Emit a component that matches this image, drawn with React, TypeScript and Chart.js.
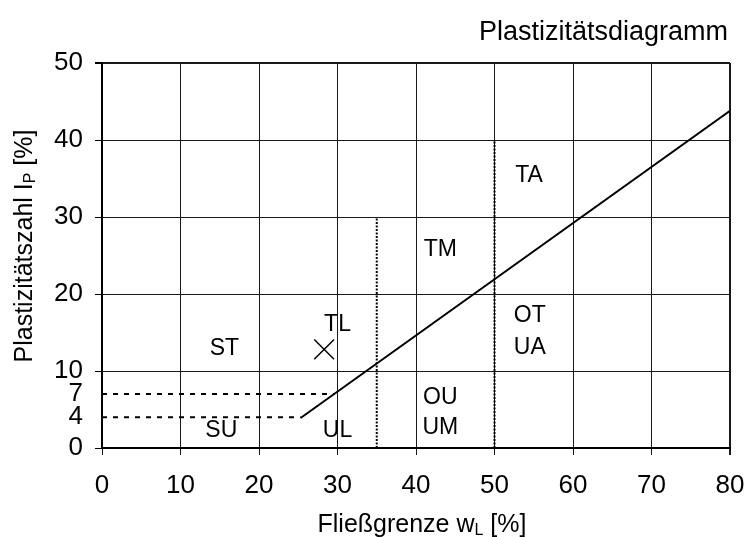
import React, { useEffect, useRef } from "react";
import { Chart, registerables } from "chart.js";

Chart.register(...registerables);

const chartTitle = "Plastizitätsdiagramm";
// [text, isSubscript]
const xAxisTitleParts: [string, boolean][] = [["Fließgrenze w", false], ["L", true], [" [%]", false]];
const yAxisTitleParts: [string, boolean][] = [["Plastizitätszahl I", false], ["P", true], [" [%]", false]];

const yTickValues = [0, 4, 7, 10, 20, 30, 40, 50];
const hiddenGridValues = [4, 7];

// A-line
const aLineX = [25.3, 80];
const aLineY = [3.9, 43.8];

// dashed horizontal limits
const dash7X = [0, 29.6];
const dash7Y = [7, 7];
const dash4X = [0, 25.3];
const dash4Y = [4, 4];

// dotted vertical limits
const dot35X = [35, 35];
const dot35Y = [0, 30];
const dot50X = [50, 50];
const dot50Y = [0, 40];

// sample point
const sampleX = [28.3];
const sampleY = [12.8];

// zone labels
const zoneLabels = ["ST", "TL", "SU", "UL", "OU", "UM", "TM", "TA", "OT", "UA"];
const zoneX = [15.6, 30.0, 15.2, 30.0, 43.1, 43.1, 43.1, 54.4, 54.5, 54.5];
const zoneY = [12.9, 16.0, 2.2, 2.2, 6.6, 2.6, 25.8, 35.4, 17.2, 13.0];

const FONT = "'Liberation Sans', Arial, sans-serif";
const TICK_FS = 26;
const AXIS_FS = 25;
const SUB_FS = 16;
const ZONE_FS = 23;
const TITLE_FS = 27;

const pts = (xs: number[], ys: number[]) => xs.map((x, i) => ({ x, y: ys[i] }));

function drawParts(ctx: CanvasRenderingContext2D, parts: [string, boolean][], cx: number, baseline: number) {
  const widths = parts.map(([t, sub]) => {
    ctx.font = `${sub ? SUB_FS : AXIS_FS}px ${FONT}`;
    return ctx.measureText(t).width;
  });
  const total = widths.reduce((a, b) => a + b, 0);
  let x = cx - total / 2;
  parts.forEach(([t, sub], i) => {
    ctx.font = `${sub ? SUB_FS : AXIS_FS}px ${FONT}`;
    ctx.fillText(t, x, baseline + (sub ? 3 : 0));
    x += widths[i];
  });
}

const textPlugin = {
  id: "textLabels",
  afterDatasetsDraw(chart: any) {
    const { ctx, scales, chartArea } = chart;
    ctx.save();
    ctx.fillStyle = "#000";
    ctx.textBaseline = "middle";
    ctx.font = `${ZONE_FS}px ${FONT}`;
    ctx.textAlign = "center";
    zoneLabels.forEach((t, i) => {
      ctx.fillText(t, scales.x.getPixelForValue(zoneX[i]), scales.y.getPixelForValue(zoneY[i]));
    });
    ctx.font = `${TITLE_FS}px ${FONT}`;
    ctx.textAlign = "right";
    ctx.fillText(chartTitle, 728, 33);

    ctx.textAlign = "left";
    ctx.textBaseline = "alphabetic";
    const xc = (chartArea.left + chartArea.right) / 2 + 6;
    drawParts(ctx, xAxisTitleParts, xc, 532);

    ctx.translate(32, 0);
    ctx.rotate(-Math.PI / 2);
    drawParts(ctx, yAxisTitleParts, -246, 0);
    ctx.restore();
  },
};

export default function App() {
  const ref = useRef<HTMLCanvasElement>(null);
  useEffect(() => {
    document.body.style.margin = "0";
    const line = (xs: number[], ys: number[], extra: any = {}) => ({
      data: pts(xs, ys),
      showLine: true,
      borderColor: "#000",
      borderWidth: 2,
      pointRadius: 0,
      fill: false,
      ...extra,
    });
    const chart = new Chart(ref.current!, {
      type: "scatter",
      data: {
        datasets: [
          line(aLineX, aLineY),
          line(dash7X, dash7Y, { borderDash: [5, 6], borderWidth: 2 }),
          line(dash4X, dash4Y, { borderDash: [5, 6], borderWidth: 2 }),
          line(dot35X, dot35Y, { borderDash: [2, 1.5], borderWidth: 2 }),
          line(dot50X, dot50Y, { borderDash: [2, 1.5], borderWidth: 2 }),
          {
            data: pts(sampleX, sampleY),
            showLine: false,
            pointStyle: "crossRot",
            pointRadius: 14,
            borderColor: "#000",
            borderWidth: 1.5,
          } as any,
        ],
      },
      options: {
        animation: false,
        responsive: false,
        layout: { padding: { left: 0, right: 18, top: 63, bottom: 0 } },
        plugins: {
          legend: { display: false },
          tooltip: { enabled: false },
          title: { display: false },
        },
        scales: {
          x: {
            type: "linear",
            min: 0,
            max: 80,
            ticks: {
              stepSize: 10,
              color: "#000",
              font: { family: FONT, size: TICK_FS },
              padding: 15,
              maxRotation: 0,
            },
            grid: {
              color: "#1a1a1a",
              lineWidth: (c: any) => (c.tick && c.tick.value === 80 ? 2 : 1),
              tickLength: 7,
            },
            border: { display: true, color: "#000", width: 2 },
            title: { display: false },
            afterFit: (s: any) => {
              s.height = 89;
              s.paddingLeft = 0;
              s.paddingRight = 0;
            },
          },
          y: {
            type: "linear",
            min: 0,
            max: 50,
            afterBuildTicks: (s: any) => {
              s.ticks = yTickValues.map((v) => ({ value: v }));
            },
            ticks: {
              color: "#000",
              font: { family: FONT, size: TICK_FS },
              padding: 12,
              autoSkip: false,
            },
            grid: {
              color: (c: any) =>
                c.tick && hiddenGridValues.includes(c.tick.value) ? "rgba(0,0,0,0)" : "#1a1a1a",
              tickColor: (c: any) =>
                c.tick && hiddenGridValues.includes(c.tick.value) ? "rgba(0,0,0,0)" : "#000",
              lineWidth: (c: any) => (c.tick && c.tick.value === 50 ? 2 : 1),
              tickLength: 7,
            },
            border: { display: true, color: "#000", width: 2 },
            title: { display: false },
            afterFit: (s: any) => {
              s.width = 102;
              s.paddingTop = 0;
              s.paddingBottom = 0;
            },
          },
        },
      },
      plugins: [textPlugin],
    });
    return () => chart.destroy();
  }, []);
  return (
    <div style={{ width: 748, height: 537 }}>
      <canvas ref={ref} width={748} height={537} style={{ width: 748, height: 537 }} />
    </div>
  );
}
